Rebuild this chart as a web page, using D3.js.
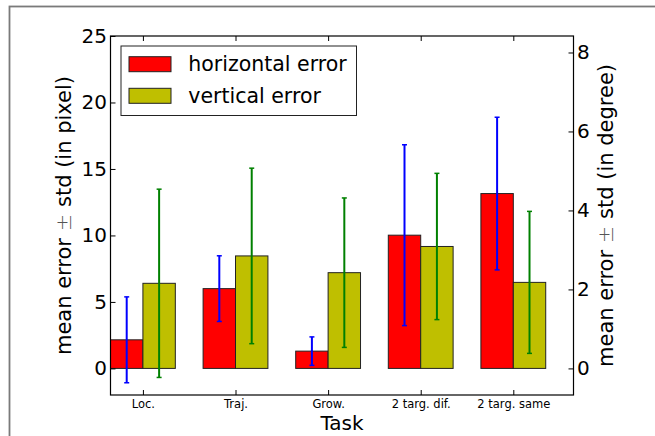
<!DOCTYPE html>
<html>
<head>
<meta charset="utf-8">
<script src="https://cdn.jsdelivr.net/npm/d3@7"></script>
<style>
  html, body { margin: 0; padding: 0; background: #fff; }
  svg { display: block; font-family: "DejaVu Sans", sans-serif; }
</style>
</head>
<body>
<svg id="chart" width="655" height="436"></svg>
<script>
// Task categories
const tasks = ["Loc.", "Traj.", "Grow.", "2 targ. dif.", "2 targ. same"];
// Mean error and standard deviation, in pixels
const horizMean = [2.15, 6.0, 1.3, 10.02, 13.15];
const horizStd  = [3.23, 2.47, 1.07, 6.8, 5.74];
const vertMean  = [6.4, 8.46, 7.2, 9.17, 6.47];
const vertStd   = [7.08, 6.6, 5.62, 5.5, 5.34];
// Axis ticks
const pixelTicks = [0, 5, 10, 15, 20, 25];
const degreeTicks = [0, 2, 4, 6, 8];
const seriesNames = ["horizontal error", "vertical error"];

const pixPerDeg = 2.97;
const barW = 0.35;

const svg = d3.select("#chart");
svg.append("rect").attr("width", 655).attr("height", 436).attr("fill", "#fff");

// figure frame (top and left edges fall inside the canvas)
svg.append("rect")
  .attr("x", 9.5).attr("y", 6.5).attr("width", 700).attr("height", 500)
  .attr("fill", "none").attr("stroke", "#7a7a7a").attr("stroke-width", 1.8);

const L = 110.5, R = 573.5, T = 36, B = 395;

const x = d3.scaleLinear().domain([0, 5]).range([L, R]);
const y = d3.scaleLinear().domain([-2, 25]).range([B, T]);
const y2 = d3.scaleLinear().domain([-2 / pixPerDeg, 25 / pixPerDeg]).range([B, T]);

const g = svg.append("g");

// bars
const series = [
  { mean: horizMean, std: horizStd, off: 0, fill: "#ff0000", err: "#0000ff" },
  { mean: vertMean, std: vertStd, off: barW, fill: "#bfbf00", err: "#008000" }
];

series.forEach(s => {
  g.selectAll(null).data(s.mean).enter().append("rect")
    .attr("x", (d, i) => x(i + s.off))
    .attr("width", x(barW) - x(0))
    .attr("y", d => y(Math.max(d, 0)))
    .attr("height", d => Math.abs(y(d) - y(0)))
    .attr("fill", s.fill)
    .attr("stroke", "#222")
    .attr("stroke-width", 1);
});

// error bars
series.forEach(s => {
  const eg = g.append("g").attr("stroke", s.err);
  s.mean.forEach((m, i) => {
    const cx = x(i + s.off + barW / 2);
    const lo = y(m - s.std[i]), hi = y(m + s.std[i]);
    eg.append("line").attr("x1", cx).attr("x2", cx).attr("y1", lo).attr("y2", hi)
      .attr("stroke-width", 2);
    [lo, hi].forEach(v => {
      eg.append("line").attr("x1", cx - 2.5).attr("x2", cx + 2.5).attr("y1", v).attr("y2", v)
        .attr("stroke-width", 1.5);
    });
  });
});

// axes
const tickFont = "20px";
const ax = svg.append("g");

const leftAxis = ax.append("g").attr("transform", `translate(${L},0)`)
  .call(d3.axisLeft(y).tickValues(pixelTicks).tickSizeInner(-5).tickSizeOuter(0).tickPadding(3.5));
const rightAxis = ax.append("g").attr("transform", `translate(${R},0)`)
  .call(d3.axisRight(y2).tickValues(degreeTicks).tickSizeInner(-5).tickSizeOuter(0).tickPadding(3.5));
const bottomAxis = ax.append("g").attr("transform", `translate(0,${B})`)
  .call(d3.axisBottom(x).tickValues(tasks.map((t, i) => i + barW))
    .tickFormat((d, i) => tasks[i]).tickSizeInner(-5).tickSizeOuter(0).tickPadding(5));
const topAxis = ax.append("g").attr("transform", `translate(0,${T})`)
  .call(d3.axisTop(x).tickValues(tasks.map((t, i) => i + barW))
    .tickFormat("").tickSizeInner(-5).tickSizeOuter(0));

[leftAxis, rightAxis, bottomAxis, topAxis].forEach(a => {
  a.select(".domain").remove();
  a.selectAll("line").attr("stroke", "#000").attr("stroke-width", 1);
  a.selectAll("text").attr("fill", "#000").style("font-family", "DejaVu Sans");
});
leftAxis.selectAll("text").style("font-size", tickFont);
rightAxis.selectAll("text").style("font-size", tickFont);
bottomAxis.selectAll("text").style("font-size", "11.5px");

// plot frame
svg.append("rect")
  .attr("x", L).attr("y", T).attr("width", R - L).attr("height", B - T)
  .attr("fill", "none").attr("stroke", "#000").attr("stroke-width", 1.2);

// axis titles, with a thin plus-minus sign
function axisTitle(cx, unit) {
  const t = svg.append("text")
    .attr("transform", `translate(${cx},${(T + B) / 2}) rotate(-90)`)
    .attr("text-anchor", "middle").attr("dominant-baseline", "central")
    .style("font-size", "21px");
  t.append("tspan").text("mean error ");
  t.append("tspan").attr("fill", "#555").style("font-weight", 200).text("\u00b1");
  t.append("tspan").text(` std (in ${unit})`);
}
axisTitle(64, "pixel");
axisTitle(606, "degree");

svg.append("text")
  .attr("x", (L + R) / 2).attr("y", 429.5)
  .attr("text-anchor", "middle")
  .style("font-size", "20px")
  .text("Task");

// legend
const lg = svg.append("g");
lg.append("rect").attr("x", 121).attr("y", 46).attr("width", 235.5).attr("height", 69.5)
  .attr("fill", "#fff").attr("stroke", "#222").attr("stroke-width", 1);
seriesNames.forEach((name, i) => {
  const yy = 56.7 + i * 31.6;
  lg.append("rect").attr("x", 129).attr("y", yy).attr("width", 42).attr("height", 15)
    .attr("fill", series[i].fill).attr("stroke", "#222").attr("stroke-width", 1);
  lg.append("text").attr("x", 188.3).attr("y", 70.7 + i * 32)
    .style("font-size", "20.5px").text(name);
});
</script>
</body>
</html>
